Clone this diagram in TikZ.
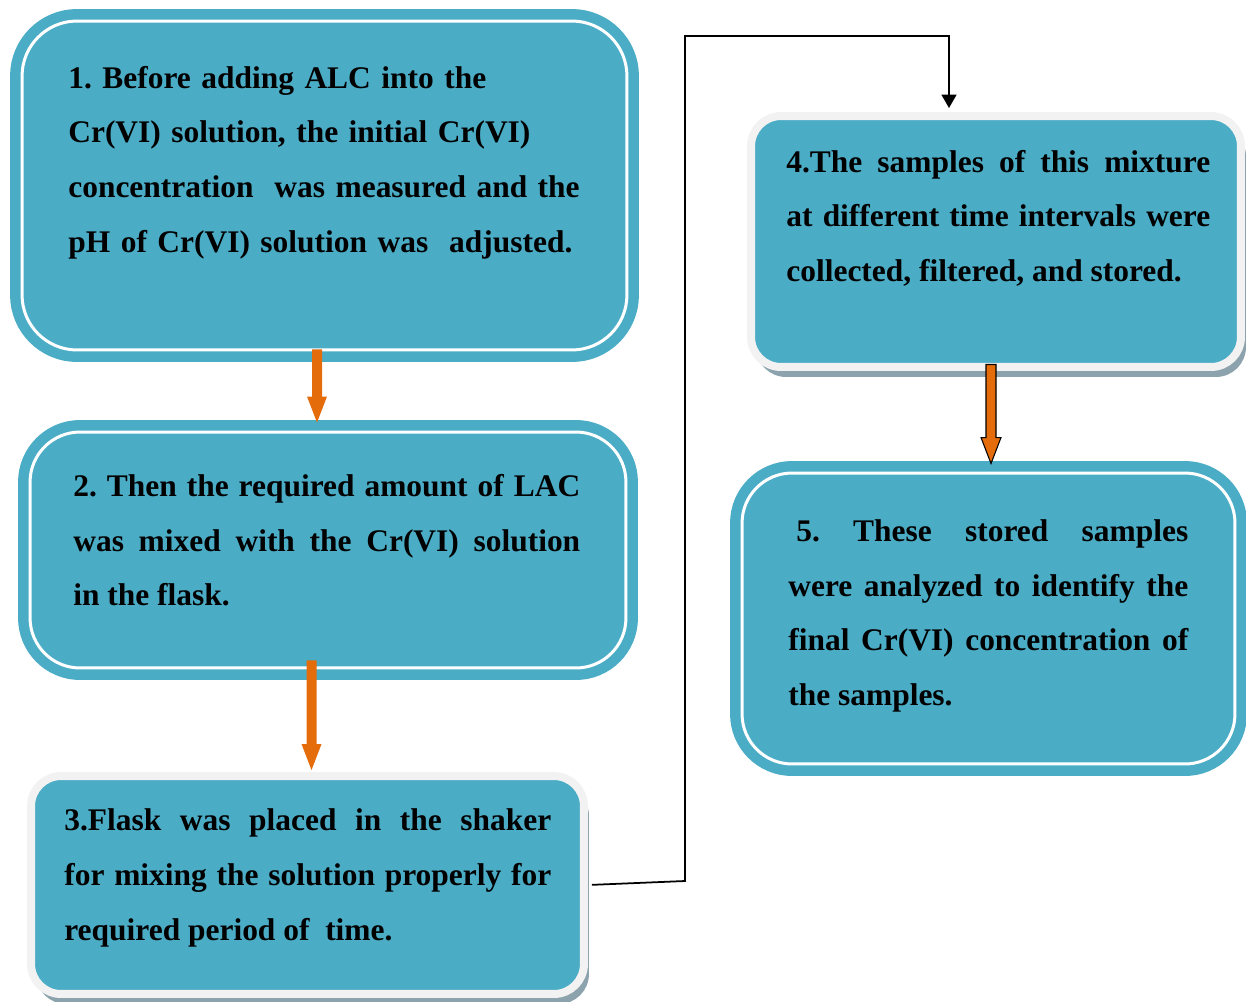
\documentclass[tikz,border=0pt]{standalone}
\usepackage{fontspec}
\setmainfont{Liberation Serif}
\usetikzlibrary{arrows.meta,calc,shadows}

\definecolor{boxteal}{RGB}{75,172,198}
\definecolor{arroworange}{RGB}{228,108,10}
\definecolor{rimgray}{RGB}{242,242,242}
\definecolor{shadowgray}{RGB}{140,163,174}

\frenchspacing
\tolerance=10000
\hbadness=10000

% block arrow from (#2) down to the tip (#3)
\newcommand{\blockarrow}[3][]{%
    \draw[orangearrow,#1] ($(#2)+(-5,0)$) -- ($(#3)+(-5,-26)$) -- ($(#3)+(-10,-26)$) -- (#3)
        -- ($(#3)+(10,-26)$) -- ($(#3)+(5,-26)$) -- ($(#2)+(5,0)$) -- cycle;}

\begin{document}
\begin{tikzpicture}[
            x=0.02cm, y=-0.02cm,
            ringbox/.style={rounded corners=1.1cm, fill=boxteal, draw=white, line width=0.06cm, preaction={draw=boxteal, line width=0.48cm}},
            rimbox/.style={rounded corners=0.6cm, fill=boxteal, draw=rimgray, line width=0.16cm, drop shadow={shadow xshift=0.1cm, shadow yshift=-0.2cm, fill=shadowgray, opacity=1}},
            steptext/.style={anchor=base west, inner sep=0pt, align=justify, font=\bfseries\fontsize{17.9}{31.3}\selectfont},
            orangearrow/.style={fill=arroworange, draw=none},
            connector/.style={draw=black, line width=1pt, -{Triangle[width=0.3cm,length=0.27cm]}}
        ]

        \useasboundingbox (0,0) rectangle (1246,1001);

        % Boxes
        \node[ringbox, minimum width=12.1cm, minimum height=6.58cm] (b1) at (324.5,185.5) {};
        \node[ringbox, rounded corners=1cm, minimum width=11.92cm, minimum height=4.72cm] (b2) at (328,550) {};
        \node[rimbox, minimum width=11.06cm, minimum height=4.36cm] (b3) at (307.5,885) {};
        \node[rimbox, minimum width=9.8cm, minimum height=5.02cm] (b4) at (996,241.5) {};
        \node[ringbox, rounded corners=1cm, minimum width=9.86cm, minimum height=5.82cm] (b5) at (988.5,618.5) {};

        % Step texts
        \node[steptext, text width=11cm, align=left] (t1) at (68,88) {1. Before adding ALC into the\\Cr(VI) solution, the initial Cr(VI)\\concentration\ \ was measured and the\\pH of Cr(VI) solution was\ \ adjusted.};

        \node[steptext, text width=10.14cm] (t2) at (73,496) {2. Then the required amount of LAC\linebreak was mixed with the Cr(VI) solution\linebreak in the flask.};

        \node[steptext, text width=9.74cm] (t3) at (64,830) {3.Flask was placed in the shaker\linebreak for mixing the solution properly for\linebreak required period of\ \ time.};

        \node[steptext, text width=8.48cm] (t4) at (786,172) {4.The samples of this mixture\linebreak at different time intervals were\linebreak collected, filtered, and stored.};

        \node[steptext, text width=8cm] (t5) at (788,541) {\hspace*{0.16cm}5. These stored samples\linebreak were analyzed to identify the\linebreak final Cr(VI) concentration of\linebreak the samples.};

        % Orange arrows
        \coordinate (a1s) at ([xshift=-0.15cm, yshift=0.04cm]b1.south);
        \coordinate (a1t) at (a1s |- b2.north);
        \coordinate (a2s) at ([xshift=-0.33cm, yshift=0.18cm]b2.south);
        \coordinate (a2t) at (a2s |- b3.north);
        \coordinate (a3s) at ([xshift=-0.1cm, yshift=0.13cm]b4.south);
        \coordinate (a3t) at (a3s |- b5.north);

        \blockarrow{a1s}{$(a1t)+(0,-8)$}
        \blockarrow{a2s}{$(a2t)+(0,-2)$}
        \blockarrow[draw=black, line width=0.6pt]{a3s}{$(a3t)+(0,-8)$}

        % Connector 3 -> 4
        \coordinate (k1) at (685,881);
        \coordinate (k2) at (685,36);
        \coordinate (k3) at (949,36);
        \coordinate (k4) at (k3 |- b4.north);
        \draw[connector, shorten <=0.08cm] (b3.east) -- (k1) -- (k2) -- (k3) -- ([yshift=0.08cm]k4);

    \end{tikzpicture}
\end{document}
